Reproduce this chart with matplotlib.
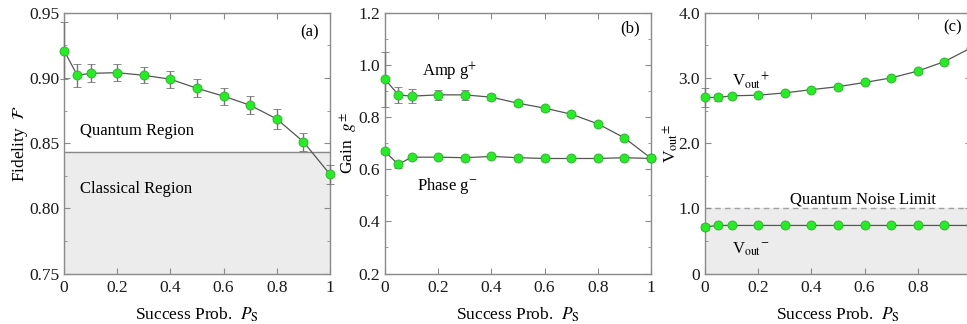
import numpy as np
import matplotlib.pyplot as plt
from matplotlib.ticker import MultipleLocator

plt.rcParams['font.family'] = ['Liberation Serif', 'DejaVu Serif']
plt.rcParams['mathtext.fontset'] = 'stix'

# success probability
ps = [0, 0.05, 0.1, 0.2, 0.3, 0.4, 0.5, 0.6, 0.7, 0.8, 0.9, 1.0]

# (a) fidelity
fid = [0.921, 0.902, 0.9035, 0.904, 0.902, 0.899, 0.892, 0.886, 0.879, 0.8685, 0.851, 0.826]
fid_err = [0.022, 0.009, 0.007, 0.0065, 0.006, 0.0065, 0.007, 0.0065, 0.007, 0.0075, 0.007, 0.007]
fid_limit = 0.843

# (b) gains
g_amp = [0.945, 0.885, 0.88, 0.885, 0.885, 0.876, 0.853, 0.834, 0.811, 0.774, 0.72, 0.642]
g_amp_err = [0.105, 0.032, 0.028, 0.02, 0.018, 0.012, 0.01, 0.01, 0.008, 0.007, 0.007, 0.006]
g_ph = [0.668, 0.618, 0.646, 0.646, 0.644, 0.649, 0.644, 0.641, 0.641, 0.641, 0.644, 0.641]
g_ph_err = [0.01, 0.015, 0.006, 0.005, 0.004, 0.004, 0.004, 0.004, 0.004, 0.004, 0.004, 0.004]

# (c) output variances
v_plus = [2.70, 2.70, 2.725, 2.735, 2.77, 2.82, 2.865, 2.93, 3.0, 3.105, 3.25, 3.46]
v_plus_err = [0.15, 0.06, 0.03, 0.02, 0.02, 0.02, 0.02, 0.02, 0.02, 0.02, 0.02, 0.02]
v_minus = [0.715, 0.737, 0.737, 0.737, 0.737, 0.737, 0.737, 0.737, 0.737, 0.737, 0.737, 0.737]
v_minus_err = [0.05, 0.01, 0.01, 0.01, 0.01, 0.01, 0.01, 0.01, 0.01, 0.01, 0.01, 0.01]
qnl = 1.0

xticks = [0, 0.2, 0.4, 0.6, 0.8, 1.0]
xlabels = ['0', '0.2', '0.4', '0.6', '0.8', '1']

W, H = 967, 324
fig = plt.figure(figsize=(W / 100, H / 100), dpi=100)

frame = '#8a8a8a'
shade = '#ececec'
fs = 12.5
tfs = 12.5


def make_ax(left, ylim, major, minor):
    ax = fig.add_axes([left / W, (H - 273.5) / H, 266 / W, 260.8 / H])
    ax.set_xlim(0, 1)
    ax.set_ylim(*ylim)
    ax.yaxis.set_major_locator(MultipleLocator(major))
    ax.yaxis.set_minor_locator(MultipleLocator(minor))
    ax.tick_params(which='both', direction='in', top=True, right=True,
                   colors=frame, labelcolor='#1a1a1a', labelsize=tfs)
    ax.tick_params(which='major', length=4)
    ax.tick_params(which='major', axis='x', pad=5)
    ax.tick_params(which='minor', length=2.5)
    for s in ax.spines.values():
        s.set_color(frame)
        s.set_linewidth(1.0)
    ax.set_xlabel(r'Success Prob.  $P_\mathrm{S}$', fontsize=fs, labelpad=6.5)
    return ax


def series(ax, y, err):
    ax.errorbar(ps, y, yerr=err, fmt='-o', color='#555555', lw=0.9,
                ecolor='#777777', elinewidth=1.0, capsize=3, capthick=0.9,
                mfc='#22ee22', mec='#33aa33', mew=0.6, ms=6.5, zorder=3,
                clip_on=False)


# (a)
ax1 = make_ax(64, (0.75, 0.95), 0.05, 0.025)
ax1.axhspan(0.75, fid_limit, color=shade, zorder=0)
ax1.axhline(fid_limit, color='#888888', lw=1.0, zorder=1)
series(ax1, fid, fid_err)
ax1.yaxis.set_major_formatter(plt.FormatStrFormatter('%.2f'))
ax1.set_xticks(xticks, xlabels)
ax1.set_ylabel(r'Fidelity  $\mathcal{F}$', fontsize=fs)
ax1.yaxis.set_label_coords(-0.128, 0.5)
ax1.text(0.06, 0.856, 'Quantum Region', fontsize=12)
ax1.text(0.06, 0.812, 'Classical Region', fontsize=12)
ax1.text(0.96, 0.935, '(a)', fontsize=12, ha='right', va='center')

# (b)
ax2 = make_ax(385, (0.2, 1.2), 0.2, 0.1)
series(ax2, g_amp, g_amp_err)
series(ax2, g_ph, g_ph_err)
ax2.yaxis.set_major_formatter(plt.FormatStrFormatter('%.1f'))
ax2.set_xticks(xticks, xlabels)
ax2.set_ylabel(r'Gain  $g^{\pm}$', fontsize=fs)
ax2.yaxis.set_label_coords(-0.096, 0.5)
ax2.text(0.14, 0.955, 'Amp g$^{+}$', fontsize=12)
ax2.text(0.12, 0.52, 'Phase g$^{-}$', fontsize=12)
ax2.text(0.96, 1.14, '(b)', fontsize=12, ha='right', va='center')

# (c)
ax3 = make_ax(705, (0, 4.0), 1.0, 0.5)
ax3.axhspan(0, qnl, color=shade, zorder=0)
ax3.axhline(qnl, color='#a0a0a0', lw=1.0, ls='--', dashes=(4, 3), zorder=1)
series(ax3, v_plus, v_plus_err)
series(ax3, v_minus, v_minus_err)
ax3.set_yticks([0, 1, 2, 3, 4], ['0', '1.0', '2.0', '3.0', '4.0'])
ax3.set_xticks(xticks, xlabels[:-1] + [''])
ax3.set_ylabel(r'V$_\mathrm{out}$$^{\pm}$', fontsize=fs)
ax3.yaxis.set_label_coords(-0.095, 0.5)
ax3.text(0.32, 1.08, 'Quantum Noise Limit', fontsize=12)
ax3.text(0.1, 2.88, r'V$_\mathrm{out}$$^{+}$', fontsize=12)
ax3.text(0.1, 0.3, r'V$_\mathrm{out}$$^{-}$', fontsize=12)
ax3.text(0.965, 3.78, '(c)', fontsize=12, ha='right', va='center')

fig.savefig('out.png', dpi=100)
